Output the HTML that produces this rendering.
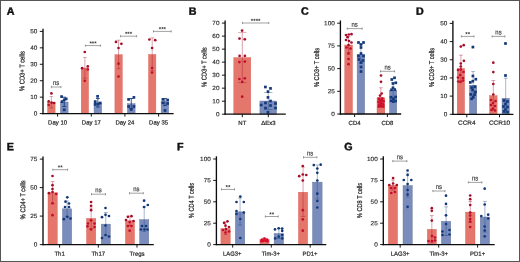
<!DOCTYPE html>
<html lang="en">
<head>
<meta charset="utf-8">
<title>Figure</title>
<style>
html,body{margin:0;padding:0;background:#fff;}
body{width:520px;height:262px;overflow:hidden;position:relative;}
#fig{position:absolute;left:0;top:0;width:520px;height:262px;box-sizing:border-box;border:1px solid #555;background:#fff;}
svg{position:absolute;left:0;top:0;display:block;font-family:"Liberation Sans",sans-serif;}
</style>
</head>
<body>
<div id="fig"></div>
<svg width="520" height="262" viewBox="0 0 520 262">
<rect x="47.60" y="102.50" width="7.50" height="11.10" fill="#E5766C" stroke="#D9625A" stroke-width="0.4"/>
<rect x="60.40" y="102.00" width="7.70" height="11.60" fill="#7A8CBC" stroke="#66749A" stroke-width="0.4"/>
<rect x="81.20" y="68.00" width="7.40" height="45.60" fill="#E5766C" stroke="#D9625A" stroke-width="0.4"/>
<rect x="94.00" y="103.00" width="7.70" height="10.60" fill="#7A8CBC" stroke="#66749A" stroke-width="0.4"/>
<rect x="114.90" y="54.70" width="7.40" height="58.90" fill="#E5766C" stroke="#D9625A" stroke-width="0.4"/>
<rect x="127.40" y="103.70" width="7.70" height="9.90" fill="#7A8CBC" stroke="#66749A" stroke-width="0.4"/>
<rect x="148.50" y="54.50" width="7.40" height="59.10" fill="#E5766C" stroke="#D9625A" stroke-width="0.4"/>
<rect x="161.10" y="101.70" width="7.60" height="11.90" fill="#7A8CBC" stroke="#66749A" stroke-width="0.4"/>
<g opacity="0.85">
<line x1="51.35" y1="96.30" x2="51.35" y2="108.00" stroke="#9C0E29" stroke-width="0.45"/>
<line x1="49.45" y1="96.30" x2="53.25" y2="96.30" stroke="#9C0E29" stroke-width="0.45"/>
<line x1="49.45" y1="108.00" x2="53.25" y2="108.00" stroke="#9C0E29" stroke-width="0.45"/>
</g>
<g opacity="1">
<line x1="64.25" y1="97.20" x2="64.25" y2="106.50" stroke="#17407F" stroke-width="0.9"/>
<line x1="62.35" y1="97.20" x2="66.15" y2="97.20" stroke="#17407F" stroke-width="0.9"/>
<line x1="62.35" y1="106.50" x2="66.15" y2="106.50" stroke="#17407F" stroke-width="0.9"/>
</g>
<g opacity="0.85">
<line x1="84.90" y1="57.30" x2="84.90" y2="78.30" stroke="#9C0E29" stroke-width="0.45"/>
<line x1="83.00" y1="57.30" x2="86.80" y2="57.30" stroke="#9C0E29" stroke-width="0.45"/>
<line x1="83.00" y1="78.30" x2="86.80" y2="78.30" stroke="#9C0E29" stroke-width="0.45"/>
</g>
<g opacity="1">
<line x1="97.85" y1="98.50" x2="97.85" y2="107.00" stroke="#17407F" stroke-width="0.9"/>
<line x1="95.95" y1="98.50" x2="99.75" y2="98.50" stroke="#17407F" stroke-width="0.9"/>
<line x1="95.95" y1="107.00" x2="99.75" y2="107.00" stroke="#17407F" stroke-width="0.9"/>
</g>
<g opacity="0.85">
<line x1="118.60" y1="40.20" x2="118.60" y2="68.80" stroke="#9C0E29" stroke-width="0.45"/>
<line x1="116.70" y1="40.20" x2="120.50" y2="40.20" stroke="#9C0E29" stroke-width="0.45"/>
<line x1="116.70" y1="68.80" x2="120.50" y2="68.80" stroke="#9C0E29" stroke-width="0.45"/>
</g>
<g opacity="1">
<line x1="131.25" y1="98.50" x2="131.25" y2="108.50" stroke="#17407F" stroke-width="0.9"/>
<line x1="129.35" y1="98.50" x2="133.15" y2="98.50" stroke="#17407F" stroke-width="0.9"/>
<line x1="129.35" y1="108.50" x2="133.15" y2="108.50" stroke="#17407F" stroke-width="0.9"/>
</g>
<g opacity="0.85">
<line x1="152.20" y1="37.90" x2="152.20" y2="70.70" stroke="#9C0E29" stroke-width="0.45"/>
<line x1="150.30" y1="37.90" x2="154.10" y2="37.90" stroke="#9C0E29" stroke-width="0.45"/>
<line x1="150.30" y1="70.70" x2="154.10" y2="70.70" stroke="#9C0E29" stroke-width="0.45"/>
</g>
<g opacity="1">
<line x1="164.90" y1="98.50" x2="164.90" y2="105.50" stroke="#17407F" stroke-width="0.9"/>
<line x1="163.00" y1="98.50" x2="166.80" y2="98.50" stroke="#17407F" stroke-width="0.9"/>
<line x1="163.00" y1="105.50" x2="166.80" y2="105.50" stroke="#17407F" stroke-width="0.9"/>
</g>
<circle cx="51.40" cy="93.40" r="1.35" fill="#A80D28"/>
<circle cx="48.70" cy="101.40" r="1.35" fill="#A80D28"/>
<circle cx="51.60" cy="102.60" r="1.35" fill="#A80D28"/>
<circle cx="54.10" cy="103.00" r="1.35" fill="#A80D28"/>
<circle cx="48.70" cy="105.00" r="1.35" fill="#C20F2B"/>
<rect x="60.25" y="95.25" width="2.7" height="2.7" fill="#133777"/>
<rect x="64.85" y="97.55" width="2.7" height="2.7" fill="#133777"/>
<rect x="62.85" y="98.65" width="2.7" height="2.7" fill="#133777"/>
<rect x="60.65" y="100.25" width="2.7" height="2.7" fill="#133777"/>
<rect x="62.85" y="108.45" width="2.7" height="2.7" fill="#143A7C"/>
<circle cx="84.80" cy="52.00" r="1.35" fill="#A80D28"/>
<circle cx="82.10" cy="68.20" r="1.35" fill="#A80D28"/>
<circle cx="87.80" cy="66.40" r="1.35" fill="#A80D28"/>
<circle cx="87.80" cy="69.50" r="1.35" fill="#C20F2B"/>
<circle cx="84.80" cy="80.80" r="1.35" fill="#C20F2B"/>
<rect x="96.25" y="94.95" width="2.7" height="2.7" fill="#133777"/>
<rect x="93.85" y="100.25" width="2.7" height="2.7" fill="#133777"/>
<rect x="98.85" y="101.65" width="2.7" height="2.7" fill="#133777"/>
<rect x="93.85" y="103.05" width="2.7" height="2.7" fill="#143A7C"/>
<rect x="96.65" y="102.65" width="2.7" height="2.7" fill="#143A7C"/>
<circle cx="116.00" cy="41.90" r="1.35" fill="#A80D28"/>
<circle cx="121.40" cy="43.80" r="1.35" fill="#A80D28"/>
<circle cx="118.50" cy="48.00" r="1.35" fill="#A80D28"/>
<circle cx="118.50" cy="63.70" r="1.35" fill="#C20F2B"/>
<circle cx="118.50" cy="76.50" r="1.35" fill="#C20F2B"/>
<rect x="127.25" y="98.05" width="2.7" height="2.7" fill="#133777"/>
<rect x="132.55" y="96.05" width="2.7" height="2.7" fill="#133777"/>
<rect x="127.25" y="105.15" width="2.7" height="2.7" fill="#143A7C"/>
<rect x="132.55" y="105.15" width="2.7" height="2.7" fill="#143A7C"/>
<rect x="129.85" y="108.15" width="2.7" height="2.7" fill="#143A7C"/>
<circle cx="149.40" cy="39.50" r="1.35" fill="#A80D28"/>
<circle cx="155.20" cy="40.20" r="1.35" fill="#A80D28"/>
<circle cx="152.10" cy="48.00" r="1.35" fill="#A80D28"/>
<circle cx="152.10" cy="68.00" r="1.35" fill="#C20F2B"/>
<circle cx="152.10" cy="72.50" r="1.35" fill="#C20F2B"/>
<rect x="161.55" y="98.05" width="2.7" height="2.7" fill="#133777"/>
<rect x="166.25" y="98.65" width="2.7" height="2.7" fill="#133777"/>
<rect x="161.55" y="101.45" width="2.7" height="2.7" fill="#143A7C"/>
<rect x="166.25" y="102.15" width="2.7" height="2.7" fill="#143A7C"/>
<rect x="163.65" y="109.15" width="2.7" height="2.7" fill="#143A7C"/>
<line x1="43.00" y1="28.70" x2="43.00" y2="114.25" stroke="#0d0d0d" stroke-width="1.35"/>
<line x1="42.35" y1="113.60" x2="173.60" y2="113.60" stroke="#0d0d0d" stroke-width="1.3"/>
<line x1="39.80" y1="113.60" x2="43.00" y2="113.60" stroke="#0d0d0d" stroke-width="0.95"/>
<text transform="matrix(1.07 0.002 0 1 37.40 115.55)" font-size="6.0" text-anchor="end" fill="#231F20" stroke="#231F20" stroke-width="0.12">0</text>
<line x1="39.80" y1="97.16" x2="43.00" y2="97.16" stroke="#0d0d0d" stroke-width="0.95"/>
<text transform="matrix(1.07 0.002 0 1 37.40 99.11)" font-size="6.0" text-anchor="end" fill="#231F20" stroke="#231F20" stroke-width="0.12">10</text>
<line x1="39.80" y1="80.72" x2="43.00" y2="80.72" stroke="#0d0d0d" stroke-width="0.95"/>
<text transform="matrix(1.07 0.002 0 1 37.40 82.67)" font-size="6.0" text-anchor="end" fill="#231F20" stroke="#231F20" stroke-width="0.12">20</text>
<line x1="39.80" y1="64.28" x2="43.00" y2="64.28" stroke="#0d0d0d" stroke-width="0.95"/>
<text transform="matrix(1.07 0.002 0 1 37.40 66.23)" font-size="6.0" text-anchor="end" fill="#231F20" stroke="#231F20" stroke-width="0.12">30</text>
<line x1="39.80" y1="47.84" x2="43.00" y2="47.84" stroke="#0d0d0d" stroke-width="0.95"/>
<text transform="matrix(1.07 0.002 0 1 37.40 49.79)" font-size="6.0" text-anchor="end" fill="#231F20" stroke="#231F20" stroke-width="0.12">40</text>
<line x1="39.80" y1="31.40" x2="43.00" y2="31.40" stroke="#0d0d0d" stroke-width="0.95"/>
<text transform="matrix(1.07 0.002 0 1 37.40 33.35)" font-size="6.0" text-anchor="end" fill="#231F20" stroke="#231F20" stroke-width="0.12">50</text>
<line x1="57.60" y1="113.60" x2="57.60" y2="116.60" stroke="#0d0d0d" stroke-width="0.95"/>
<text transform="matrix(1 0.002 0 1 57.60 124.40)" font-size="6.0" text-anchor="middle" fill="#231F20" stroke="#231F20" stroke-width="0.2">Day 10</text>
<line x1="91.30" y1="113.60" x2="91.30" y2="116.60" stroke="#0d0d0d" stroke-width="0.95"/>
<text transform="matrix(1 0.002 0 1 91.30 124.40)" font-size="6.0" text-anchor="middle" fill="#231F20" stroke="#231F20" stroke-width="0.2">Day 17</text>
<line x1="124.90" y1="113.60" x2="124.90" y2="116.60" stroke="#0d0d0d" stroke-width="0.95"/>
<text transform="matrix(1 0.002 0 1 124.90 124.40)" font-size="6.0" text-anchor="middle" fill="#231F20" stroke="#231F20" stroke-width="0.2">Day 24</text>
<line x1="158.60" y1="113.60" x2="158.60" y2="116.60" stroke="#0d0d0d" stroke-width="0.95"/>
<text transform="matrix(1 0.002 0 1 158.60 124.40)" font-size="6.0" text-anchor="middle" fill="#231F20" stroke="#231F20" stroke-width="0.2">Day 35</text>
<text transform="translate(24.40 71.10) rotate(-89.9)" font-size="7.0" text-anchor="middle" fill="#231F20" textLength="39.8" lengthAdjust="spacingAndGlyphs" stroke="#231F20" stroke-width="0.24">% CD3+ T cells</text>
<line x1="51.40" y1="87.00" x2="61.00" y2="87.00" stroke="#454545" stroke-width="0.5"/>
<line x1="51.40" y1="85.90" x2="51.40" y2="88.10" stroke="#454545" stroke-width="0.5"/>
<line x1="61.00" y1="85.90" x2="61.00" y2="88.10" stroke="#454545" stroke-width="0.5"/>
<text transform="matrix(0.86 0.002 0 1 56.20 85.10)" font-size="6.9" text-anchor="middle" fill="#333" stroke="#333" stroke-width="0.15">ns</text>
<line x1="85.40" y1="45.60" x2="100.60" y2="45.60" stroke="#454545" stroke-width="0.5"/>
<line x1="85.40" y1="44.50" x2="85.40" y2="46.70" stroke="#454545" stroke-width="0.5"/>
<line x1="100.60" y1="44.50" x2="100.60" y2="46.70" stroke="#454545" stroke-width="0.5"/>
<text transform="matrix(1 0.002 0 1 93.00 45.50)" font-size="6.2" text-anchor="middle" font-weight="bold" fill="#333" >***</text>
<line x1="120.50" y1="36.20" x2="136.60" y2="36.20" stroke="#454545" stroke-width="0.5"/>
<line x1="120.50" y1="35.10" x2="120.50" y2="37.30" stroke="#454545" stroke-width="0.5"/>
<line x1="136.60" y1="35.10" x2="136.60" y2="37.30" stroke="#454545" stroke-width="0.5"/>
<text transform="matrix(1 0.002 0 1 128.55 36.10)" font-size="6.2" text-anchor="middle" font-weight="bold" fill="#333" >***</text>
<line x1="153.50" y1="31.40" x2="171.20" y2="31.40" stroke="#454545" stroke-width="0.5"/>
<line x1="153.50" y1="30.30" x2="153.50" y2="32.50" stroke="#454545" stroke-width="0.5"/>
<line x1="171.20" y1="30.30" x2="171.20" y2="32.50" stroke="#454545" stroke-width="0.5"/>
<text transform="matrix(1 0.002 0 1 162.35 31.30)" font-size="6.2" text-anchor="middle" font-weight="bold" fill="#333" >***</text>
<text transform="matrix(1 0.002 0 1 6.70 14.70)" font-size="10.7" font-weight="bold" fill="#111" stroke="#111" stroke-width="0.45" stroke-linejoin="round">A</text>
<rect x="233.80" y="57.60" width="17.00" height="56.60" fill="#E5766C" stroke="#D9625A" stroke-width="0.4"/>
<rect x="259.90" y="101.00" width="16.70" height="13.20" fill="#7A8CBC" stroke="#66749A" stroke-width="0.4"/>
<g opacity="0.85">
<line x1="242.30" y1="32.30" x2="242.30" y2="82.60" stroke="#9C0E29" stroke-width="0.45"/>
<line x1="238.10" y1="32.30" x2="246.50" y2="32.30" stroke="#9C0E29" stroke-width="0.45"/>
<line x1="238.10" y1="82.60" x2="246.50" y2="82.60" stroke="#9C0E29" stroke-width="0.45"/>
</g>
<g opacity="0.85">
<line x1="268.25" y1="92.50" x2="268.25" y2="109.50" stroke="#17407F" stroke-width="0.45"/>
<line x1="264.05" y1="92.50" x2="272.45" y2="92.50" stroke="#17407F" stroke-width="0.45"/>
<line x1="264.05" y1="109.50" x2="272.45" y2="109.50" stroke="#17407F" stroke-width="0.45"/>
</g>
<circle cx="242.10" cy="30.60" r="1.35" fill="#A80D28"/>
<circle cx="239.50" cy="38.60" r="1.35" fill="#A80D28"/>
<circle cx="244.80" cy="39.30" r="1.35" fill="#A80D28"/>
<circle cx="239.60" cy="55.90" r="1.35" fill="#A80D28"/>
<circle cx="244.90" cy="55.90" r="1.35" fill="#A80D28"/>
<circle cx="239.40" cy="62.10" r="1.35" fill="#C20F2B"/>
<circle cx="244.80" cy="61.60" r="1.35" fill="#C20F2B"/>
<circle cx="239.40" cy="79.00" r="1.35" fill="#C20F2B"/>
<circle cx="244.80" cy="78.30" r="1.35" fill="#C20F2B"/>
<circle cx="242.20" cy="81.90" r="1.35" fill="#C20F2B"/>
<circle cx="242.20" cy="96.70" r="1.35" fill="#C20F2B"/>
<rect x="264.05" y="85.65" width="2.7" height="2.7" fill="#133777"/>
<rect x="269.15" y="87.05" width="2.7" height="2.7" fill="#133777"/>
<rect x="266.65" y="90.25" width="2.7" height="2.7" fill="#133777"/>
<rect x="266.65" y="96.05" width="2.7" height="2.7" fill="#133777"/>
<rect x="269.15" y="99.65" width="2.7" height="2.7" fill="#133777"/>
<rect x="259.85" y="103.65" width="2.7" height="2.7" fill="#143A7C"/>
<rect x="264.15" y="101.65" width="2.7" height="2.7" fill="#143A7C"/>
<rect x="274.15" y="102.15" width="2.7" height="2.7" fill="#143A7C"/>
<rect x="269.15" y="104.15" width="2.7" height="2.7" fill="#143A7C"/>
<rect x="264.15" y="106.65" width="2.7" height="2.7" fill="#143A7C"/>
<rect x="274.15" y="106.65" width="2.7" height="2.7" fill="#143A7C"/>
<rect x="266.65" y="110.95" width="2.7" height="2.7" fill="#143A7C"/>
<line x1="225.10" y1="20.40" x2="225.10" y2="114.85" stroke="#0d0d0d" stroke-width="1.35"/>
<line x1="224.45" y1="114.20" x2="285.80" y2="114.20" stroke="#0d0d0d" stroke-width="1.3"/>
<line x1="221.90" y1="114.20" x2="225.10" y2="114.20" stroke="#0d0d0d" stroke-width="0.95"/>
<text transform="matrix(1.07 0.002 0 1 219.50 116.15)" font-size="6.0" text-anchor="end" fill="#231F20" stroke="#231F20" stroke-width="0.12">0</text>
<line x1="221.90" y1="101.19" x2="225.10" y2="101.19" stroke="#0d0d0d" stroke-width="0.95"/>
<text transform="matrix(1.07 0.002 0 1 219.50 103.14)" font-size="6.0" text-anchor="end" fill="#231F20" stroke="#231F20" stroke-width="0.12">10</text>
<line x1="221.90" y1="88.17" x2="225.10" y2="88.17" stroke="#0d0d0d" stroke-width="0.95"/>
<text transform="matrix(1.07 0.002 0 1 219.50 90.12)" font-size="6.0" text-anchor="end" fill="#231F20" stroke="#231F20" stroke-width="0.12">20</text>
<line x1="221.90" y1="75.16" x2="225.10" y2="75.16" stroke="#0d0d0d" stroke-width="0.95"/>
<text transform="matrix(1.07 0.002 0 1 219.50 77.11)" font-size="6.0" text-anchor="end" fill="#231F20" stroke="#231F20" stroke-width="0.12">30</text>
<line x1="221.90" y1="62.14" x2="225.10" y2="62.14" stroke="#0d0d0d" stroke-width="0.95"/>
<text transform="matrix(1.07 0.002 0 1 219.50 64.09)" font-size="6.0" text-anchor="end" fill="#231F20" stroke="#231F20" stroke-width="0.12">40</text>
<line x1="221.90" y1="49.13" x2="225.10" y2="49.13" stroke="#0d0d0d" stroke-width="0.95"/>
<text transform="matrix(1.07 0.002 0 1 219.50 51.08)" font-size="6.0" text-anchor="end" fill="#231F20" stroke="#231F20" stroke-width="0.12">50</text>
<line x1="221.90" y1="36.11" x2="225.10" y2="36.11" stroke="#0d0d0d" stroke-width="0.95"/>
<text transform="matrix(1.07 0.002 0 1 219.50 38.06)" font-size="6.0" text-anchor="end" fill="#231F20" stroke="#231F20" stroke-width="0.12">60</text>
<line x1="221.90" y1="23.10" x2="225.10" y2="23.10" stroke="#0d0d0d" stroke-width="0.95"/>
<text transform="matrix(1.07 0.002 0 1 219.50 25.05)" font-size="6.0" text-anchor="end" fill="#231F20" stroke="#231F20" stroke-width="0.12">70</text>
<line x1="242.30" y1="114.20" x2="242.30" y2="117.20" stroke="#0d0d0d" stroke-width="0.95"/>
<text transform="matrix(1 0.002 0 1 242.30 124.90)" font-size="6.0" text-anchor="middle" fill="#231F20" stroke="#231F20" stroke-width="0.2">NT</text>
<line x1="268.30" y1="114.20" x2="268.30" y2="117.20" stroke="#0d0d0d" stroke-width="0.95"/>
<text transform="matrix(1 0.002 0 1 268.30 124.90)" font-size="6.0" text-anchor="middle" fill="#231F20" stroke="#231F20" stroke-width="0.2">ΔEx3</text>
<text transform="translate(206.50 67.20) rotate(-89.9)" font-size="7.0" text-anchor="middle" fill="#231F20" textLength="39.6" lengthAdjust="spacingAndGlyphs" stroke="#231F20" stroke-width="0.24">% CD3+ T cells</text>
<line x1="242.50" y1="23.00" x2="268.80" y2="23.00" stroke="#454545" stroke-width="0.5"/>
<line x1="242.50" y1="21.90" x2="242.50" y2="24.10" stroke="#454545" stroke-width="0.5"/>
<line x1="268.80" y1="21.90" x2="268.80" y2="24.10" stroke="#454545" stroke-width="0.5"/>
<text transform="matrix(1 0.002 0 1 255.65 22.90)" font-size="6.2" text-anchor="middle" font-weight="bold" fill="#333" >****</text>
<text transform="matrix(1 0.002 0 1 188.70 14.70)" font-size="10.7" font-weight="bold" fill="#111" stroke="#111" stroke-width="0.45" stroke-linejoin="round">B</text>
<rect x="344.70" y="45.00" width="7.80" height="69.00" fill="#E5766C" stroke="#D9625A" stroke-width="0.4"/>
<rect x="357.10" y="54.20" width="7.60" height="59.80" fill="#7A8CBC" stroke="#66749A" stroke-width="0.4"/>
<rect x="377.10" y="97.80" width="7.50" height="16.20" fill="#E5766C" stroke="#D9625A" stroke-width="0.4"/>
<rect x="377.10" y="97.80" width="7.50" height="16.20" fill="#E5766C" stroke="#D9625A" stroke-width="0.4"/>
<rect x="389.50" y="90.20" width="7.30" height="23.80" fill="#7A8CBC" stroke="#66749A" stroke-width="0.4"/>
<g opacity="0.85">
<line x1="348.60" y1="36.50" x2="348.60" y2="52.50" stroke="#9C0E29" stroke-width="0.45"/>
<line x1="346.70" y1="36.50" x2="350.50" y2="36.50" stroke="#9C0E29" stroke-width="0.45"/>
<line x1="346.70" y1="52.50" x2="350.50" y2="52.50" stroke="#9C0E29" stroke-width="0.45"/>
</g>
<g opacity="0.85">
<line x1="360.90" y1="44.50" x2="360.90" y2="63.50" stroke="#17407F" stroke-width="0.45"/>
<line x1="359.00" y1="44.50" x2="362.80" y2="44.50" stroke="#17407F" stroke-width="0.45"/>
<line x1="359.00" y1="63.50" x2="362.80" y2="63.50" stroke="#17407F" stroke-width="0.45"/>
</g>
<g opacity="0.85">
<line x1="380.85" y1="87.80" x2="380.85" y2="107.50" stroke="#9C0E29" stroke-width="0.45"/>
<line x1="378.95" y1="87.80" x2="382.75" y2="87.80" stroke="#9C0E29" stroke-width="0.45"/>
<line x1="378.95" y1="107.50" x2="382.75" y2="107.50" stroke="#9C0E29" stroke-width="0.45"/>
</g>
<g opacity="0.85">
<line x1="393.15" y1="82.50" x2="393.15" y2="98.50" stroke="#17407F" stroke-width="0.45"/>
<line x1="391.25" y1="82.50" x2="395.05" y2="82.50" stroke="#17407F" stroke-width="0.45"/>
<line x1="391.25" y1="98.50" x2="395.05" y2="98.50" stroke="#17407F" stroke-width="0.45"/>
</g>
<circle cx="346.00" cy="35.00" r="1.35" fill="#A80D28"/>
<circle cx="348.80" cy="34.50" r="1.35" fill="#A80D28"/>
<circle cx="351.50" cy="34.20" r="1.35" fill="#A80D28"/>
<circle cx="347.50" cy="37.20" r="1.35" fill="#A80D28"/>
<circle cx="346.00" cy="40.00" r="1.35" fill="#A80D28"/>
<circle cx="349.00" cy="41.00" r="1.35" fill="#A80D28"/>
<circle cx="351.50" cy="42.50" r="1.35" fill="#A80D28"/>
<circle cx="348.50" cy="45.00" r="1.35" fill="#A80D28"/>
<circle cx="346.50" cy="47.50" r="1.35" fill="#C20F2B"/>
<circle cx="350.50" cy="48.50" r="1.35" fill="#C20F2B"/>
<circle cx="348.50" cy="53.70" r="1.35" fill="#C20F2B"/>
<circle cx="348.50" cy="59.00" r="1.35" fill="#C20F2B"/>
<circle cx="348.50" cy="64.20" r="1.35" fill="#C20F2B"/>
<rect x="357.15" y="41.15" width="2.7" height="2.7" fill="#133777"/>
<rect x="362.15" y="41.15" width="2.7" height="2.7" fill="#133777"/>
<rect x="359.65" y="43.15" width="2.7" height="2.7" fill="#133777"/>
<rect x="359.65" y="46.15" width="2.7" height="2.7" fill="#133777"/>
<rect x="359.65" y="52.15" width="2.7" height="2.7" fill="#133777"/>
<rect x="357.15" y="54.65" width="2.7" height="2.7" fill="#143A7C"/>
<rect x="362.15" y="54.65" width="2.7" height="2.7" fill="#143A7C"/>
<rect x="357.65" y="58.15" width="2.7" height="2.7" fill="#143A7C"/>
<rect x="361.65" y="59.15" width="2.7" height="2.7" fill="#143A7C"/>
<rect x="359.65" y="61.15" width="2.7" height="2.7" fill="#143A7C"/>
<rect x="359.65" y="65.65" width="2.7" height="2.7" fill="#143A7C"/>
<rect x="359.65" y="70.15" width="2.7" height="2.7" fill="#143A7C"/>
<circle cx="381.00" cy="75.50" r="1.35" fill="#A80D28"/>
<circle cx="381.00" cy="81.80" r="1.35" fill="#A80D28"/>
<circle cx="381.70" cy="93.50" r="1.35" fill="#A80D28"/>
<circle cx="380.00" cy="95.60" r="1.35" fill="#A80D28"/>
<circle cx="379.00" cy="99.00" r="1.45" fill="#CC0F2B"/>
<circle cx="382.30" cy="98.80" r="1.45" fill="#CC0F2B"/>
<circle cx="380.60" cy="100.60" r="1.45" fill="#CC0F2B"/>
<circle cx="383.40" cy="101.30" r="1.45" fill="#CC0F2B"/>
<circle cx="378.60" cy="102.00" r="1.45" fill="#CC0F2B"/>
<circle cx="381.20" cy="103.00" r="1.45" fill="#CC0F2B"/>
<circle cx="379.40" cy="104.60" r="1.45" fill="#CC0F2B"/>
<circle cx="383.00" cy="104.40" r="1.45" fill="#CC0F2B"/>
<circle cx="381.00" cy="106.00" r="1.45" fill="#CC0F2B"/>
<circle cx="378.80" cy="106.40" r="1.45" fill="#CC0F2B"/>
<circle cx="383.20" cy="106.60" r="1.45" fill="#CC0F2B"/>
<rect x="393.15" y="76.45" width="2.7" height="2.7" fill="#133777"/>
<rect x="390.45" y="78.15" width="2.7" height="2.7" fill="#133777"/>
<rect x="394.45" y="81.45" width="2.7" height="2.7" fill="#133777"/>
<rect x="391.65" y="82.15" width="2.7" height="2.7" fill="#133777"/>
<rect x="391.65" y="86.45" width="2.7" height="2.7" fill="#133777"/>
<rect x="390.15" y="88.45" width="2.7" height="2.7" fill="#133777"/>
<rect x="393.45" y="88.25" width="2.7" height="2.7" fill="#133777"/>
<rect x="389.65" y="95.85" width="2.7" height="2.7" fill="#143A7C"/>
<rect x="394.25" y="95.65" width="2.7" height="2.7" fill="#143A7C"/>
<rect x="392.05" y="97.45" width="2.7" height="2.7" fill="#143A7C"/>
<rect x="389.85" y="99.45" width="2.7" height="2.7" fill="#143A7C"/>
<rect x="394.25" y="99.65" width="2.7" height="2.7" fill="#143A7C"/>
<rect x="392.05" y="100.25" width="2.7" height="2.7" fill="#143A7C"/>
<line x1="340.40" y1="20.50" x2="340.40" y2="114.65" stroke="#0d0d0d" stroke-width="1.35"/>
<line x1="339.75" y1="114.00" x2="401.20" y2="114.00" stroke="#0d0d0d" stroke-width="1.3"/>
<line x1="337.20" y1="114.00" x2="340.40" y2="114.00" stroke="#0d0d0d" stroke-width="0.95"/>
<text transform="matrix(1.07 0.002 0 1 334.80 115.95)" font-size="6.0" text-anchor="end" fill="#231F20" stroke="#231F20" stroke-width="0.12">0</text>
<line x1="337.20" y1="91.30" x2="340.40" y2="91.30" stroke="#0d0d0d" stroke-width="0.95"/>
<text transform="matrix(1.07 0.002 0 1 334.80 93.25)" font-size="6.0" text-anchor="end" fill="#231F20" stroke="#231F20" stroke-width="0.12">25</text>
<line x1="337.20" y1="68.60" x2="340.40" y2="68.60" stroke="#0d0d0d" stroke-width="0.95"/>
<text transform="matrix(1.07 0.002 0 1 334.80 70.55)" font-size="6.0" text-anchor="end" fill="#231F20" stroke="#231F20" stroke-width="0.12">50</text>
<line x1="337.20" y1="45.90" x2="340.40" y2="45.90" stroke="#0d0d0d" stroke-width="0.95"/>
<text transform="matrix(1.07 0.002 0 1 334.80 47.85)" font-size="6.0" text-anchor="end" fill="#231F20" stroke="#231F20" stroke-width="0.12">75</text>
<line x1="337.20" y1="23.20" x2="340.40" y2="23.20" stroke="#0d0d0d" stroke-width="0.95"/>
<text transform="matrix(1.07 0.002 0 1 334.80 25.15)" font-size="6.0" text-anchor="end" fill="#231F20" stroke="#231F20" stroke-width="0.12">100</text>
<line x1="354.60" y1="114.00" x2="354.60" y2="117.00" stroke="#0d0d0d" stroke-width="0.95"/>
<text transform="matrix(1 0.002 0 1 354.60 124.90)" font-size="6.0" text-anchor="middle" fill="#231F20" stroke="#231F20" stroke-width="0.2">CD4</text>
<line x1="387.40" y1="114.00" x2="387.40" y2="117.00" stroke="#0d0d0d" stroke-width="0.95"/>
<text transform="matrix(1 0.002 0 1 387.40 124.90)" font-size="6.0" text-anchor="middle" fill="#231F20" stroke="#231F20" stroke-width="0.2">CD8</text>
<text transform="translate(319.10 67.50) rotate(-89.9)" font-size="7.0" text-anchor="middle" fill="#231F20" textLength="39.2" lengthAdjust="spacingAndGlyphs" stroke="#231F20" stroke-width="0.24">% CD3+ T cells</text>
<line x1="347.20" y1="28.60" x2="362.20" y2="28.60" stroke="#454545" stroke-width="0.5"/>
<line x1="347.20" y1="27.50" x2="347.20" y2="29.70" stroke="#454545" stroke-width="0.5"/>
<line x1="362.20" y1="27.50" x2="362.20" y2="29.70" stroke="#454545" stroke-width="0.5"/>
<text transform="matrix(0.86 0.002 0 1 354.70 26.70)" font-size="6.9" text-anchor="middle" fill="#333" stroke="#333" stroke-width="0.15">ns</text>
<line x1="380.50" y1="71.30" x2="394.60" y2="71.30" stroke="#454545" stroke-width="0.5"/>
<line x1="380.50" y1="70.20" x2="380.50" y2="72.40" stroke="#454545" stroke-width="0.5"/>
<line x1="394.60" y1="70.20" x2="394.60" y2="72.40" stroke="#454545" stroke-width="0.5"/>
<text transform="matrix(0.86 0.002 0 1 387.55 69.40)" font-size="6.9" text-anchor="middle" fill="#333" stroke="#333" stroke-width="0.15">ns</text>
<text transform="matrix(1 0.002 0 1 301.00 14.70)" font-size="10.7" font-weight="bold" fill="#111" stroke="#111" stroke-width="0.45" stroke-linejoin="round">C</text>
<rect x="457.20" y="68.40" width="7.40" height="45.90" fill="#E5766C" stroke="#D9625A" stroke-width="0.4"/>
<rect x="469.40" y="85.20" width="7.40" height="29.10" fill="#7A8CBC" stroke="#66749A" stroke-width="0.4"/>
<rect x="489.50" y="95.60" width="7.60" height="18.70" fill="#E5766C" stroke="#D9625A" stroke-width="0.4"/>
<rect x="502.00" y="98.30" width="7.40" height="16.00" fill="#7A8CBC" stroke="#66749A" stroke-width="0.4"/>
<g opacity="0.85">
<line x1="460.90" y1="55.20" x2="460.90" y2="81.00" stroke="#9C0E29" stroke-width="0.45"/>
<line x1="459.00" y1="55.20" x2="462.80" y2="55.20" stroke="#9C0E29" stroke-width="0.45"/>
<line x1="459.00" y1="81.00" x2="462.80" y2="81.00" stroke="#9C0E29" stroke-width="0.45"/>
</g>
<g opacity="0.85">
<line x1="473.10" y1="71.40" x2="473.10" y2="98.50" stroke="#17407F" stroke-width="0.45"/>
<line x1="471.20" y1="71.40" x2="475.00" y2="71.40" stroke="#17407F" stroke-width="0.45"/>
<line x1="471.20" y1="98.50" x2="475.00" y2="98.50" stroke="#17407F" stroke-width="0.45"/>
</g>
<g opacity="0.85">
<line x1="493.30" y1="80.50" x2="493.30" y2="110.00" stroke="#9C0E29" stroke-width="0.45"/>
<line x1="491.40" y1="80.50" x2="495.20" y2="80.50" stroke="#9C0E29" stroke-width="0.45"/>
<line x1="491.40" y1="110.00" x2="495.20" y2="110.00" stroke="#9C0E29" stroke-width="0.45"/>
</g>
<g opacity="0.85">
<line x1="505.70" y1="78.20" x2="505.70" y2="114.00" stroke="#17407F" stroke-width="0.45"/>
<line x1="503.80" y1="78.20" x2="507.60" y2="78.20" stroke="#17407F" stroke-width="0.45"/>
</g>
<circle cx="460.80" cy="46.60" r="1.35" fill="#A80D28"/>
<circle cx="463.70" cy="45.20" r="1.35" fill="#A80D28"/>
<circle cx="463.90" cy="60.80" r="1.35" fill="#A80D28"/>
<circle cx="460.80" cy="63.50" r="1.35" fill="#A80D28"/>
<circle cx="460.80" cy="66.50" r="1.35" fill="#A80D28"/>
<circle cx="458.00" cy="70.00" r="1.35" fill="#C20F2B"/>
<circle cx="460.80" cy="69.60" r="1.35" fill="#C20F2B"/>
<circle cx="463.50" cy="72.00" r="1.35" fill="#C20F2B"/>
<circle cx="460.20" cy="75.00" r="1.35" fill="#C20F2B"/>
<circle cx="458.00" cy="77.50" r="1.35" fill="#C20F2B"/>
<circle cx="463.00" cy="78.00" r="1.35" fill="#C20F2B"/>
<circle cx="458.20" cy="81.50" r="1.35" fill="#C20F2B"/>
<circle cx="463.00" cy="80.50" r="1.35" fill="#C20F2B"/>
<circle cx="460.50" cy="82.00" r="1.35" fill="#C20F2B"/>
<rect x="471.55" y="45.75" width="2.7" height="2.7" fill="#133777"/>
<rect x="471.55" y="74.65" width="2.7" height="2.7" fill="#133777"/>
<rect x="474.45" y="77.85" width="2.7" height="2.7" fill="#133777"/>
<rect x="471.45" y="79.85" width="2.7" height="2.7" fill="#133777"/>
<rect x="468.95" y="81.05" width="2.7" height="2.7" fill="#133777"/>
<rect x="470.25" y="86.25" width="2.7" height="2.7" fill="#143A7C"/>
<rect x="473.45" y="85.45" width="2.7" height="2.7" fill="#143A7C"/>
<rect x="471.25" y="88.65" width="2.7" height="2.7" fill="#143A7C"/>
<rect x="474.05" y="90.65" width="2.7" height="2.7" fill="#143A7C"/>
<rect x="469.45" y="93.05" width="2.7" height="2.7" fill="#143A7C"/>
<rect x="473.25" y="93.25" width="2.7" height="2.7" fill="#143A7C"/>
<rect x="471.85" y="95.65" width="2.7" height="2.7" fill="#143A7C"/>
<rect x="470.25" y="97.45" width="2.7" height="2.7" fill="#143A7C"/>
<circle cx="493.30" cy="62.70" r="1.35" fill="#A80D28"/>
<circle cx="493.30" cy="72.10" r="1.35" fill="#A80D28"/>
<circle cx="493.30" cy="84.00" r="1.35" fill="#A80D28"/>
<circle cx="493.30" cy="94.50" r="1.35" fill="#A80D28"/>
<circle cx="491.00" cy="100.00" r="1.35" fill="#C20F2B"/>
<circle cx="495.50" cy="101.00" r="1.35" fill="#C20F2B"/>
<circle cx="493.00" cy="103.00" r="1.35" fill="#C20F2B"/>
<circle cx="491.00" cy="105.00" r="1.35" fill="#C20F2B"/>
<circle cx="495.00" cy="106.00" r="1.35" fill="#C20F2B"/>
<circle cx="493.00" cy="108.50" r="1.35" fill="#C20F2B"/>
<circle cx="491.50" cy="110.00" r="1.35" fill="#C20F2B"/>
<circle cx="495.00" cy="110.50" r="1.35" fill="#C20F2B"/>
<rect x="504.15" y="42.15" width="2.7" height="2.7" fill="#133777"/>
<rect x="504.15" y="74.15" width="2.7" height="2.7" fill="#133777"/>
<rect x="502.65" y="99.15" width="2.7" height="2.7" fill="#143A7C"/>
<rect x="506.15" y="100.15" width="2.7" height="2.7" fill="#143A7C"/>
<rect x="504.15" y="102.65" width="2.7" height="2.7" fill="#143A7C"/>
<rect x="502.15" y="105.15" width="2.7" height="2.7" fill="#143A7C"/>
<rect x="506.15" y="105.65" width="2.7" height="2.7" fill="#143A7C"/>
<rect x="504.15" y="108.15" width="2.7" height="2.7" fill="#143A7C"/>
<rect x="502.65" y="110.15" width="2.7" height="2.7" fill="#143A7C"/>
<rect x="506.15" y="110.65" width="2.7" height="2.7" fill="#143A7C"/>
<line x1="452.90" y1="20.70" x2="452.90" y2="114.95" stroke="#0d0d0d" stroke-width="1.35"/>
<line x1="452.25" y1="114.30" x2="513.40" y2="114.30" stroke="#0d0d0d" stroke-width="1.3"/>
<line x1="449.70" y1="114.30" x2="452.90" y2="114.30" stroke="#0d0d0d" stroke-width="0.95"/>
<text transform="matrix(1.07 0.002 0 1 447.30 116.25)" font-size="6.0" text-anchor="end" fill="#231F20" stroke="#231F20" stroke-width="0.12">0</text>
<line x1="449.70" y1="96.12" x2="452.90" y2="96.12" stroke="#0d0d0d" stroke-width="0.95"/>
<text transform="matrix(1.07 0.002 0 1 447.30 98.07)" font-size="6.0" text-anchor="end" fill="#231F20" stroke="#231F20" stroke-width="0.12">10</text>
<line x1="449.70" y1="77.94" x2="452.90" y2="77.94" stroke="#0d0d0d" stroke-width="0.95"/>
<text transform="matrix(1.07 0.002 0 1 447.30 79.89)" font-size="6.0" text-anchor="end" fill="#231F20" stroke="#231F20" stroke-width="0.12">20</text>
<line x1="449.70" y1="59.76" x2="452.90" y2="59.76" stroke="#0d0d0d" stroke-width="0.95"/>
<text transform="matrix(1.07 0.002 0 1 447.30 61.71)" font-size="6.0" text-anchor="end" fill="#231F20" stroke="#231F20" stroke-width="0.12">30</text>
<line x1="449.70" y1="41.58" x2="452.90" y2="41.58" stroke="#0d0d0d" stroke-width="0.95"/>
<text transform="matrix(1.07 0.002 0 1 447.30 43.53)" font-size="6.0" text-anchor="end" fill="#231F20" stroke="#231F20" stroke-width="0.12">40</text>
<line x1="449.70" y1="23.40" x2="452.90" y2="23.40" stroke="#0d0d0d" stroke-width="0.95"/>
<text transform="matrix(1.07 0.002 0 1 447.30 25.35)" font-size="6.0" text-anchor="end" fill="#231F20" stroke="#231F20" stroke-width="0.12">50</text>
<line x1="466.80" y1="114.30" x2="466.80" y2="117.30" stroke="#0d0d0d" stroke-width="0.95"/>
<text transform="matrix(1.07 0.002 0 1 466.80 124.80)" font-size="6.0" text-anchor="middle" fill="#231F20" stroke="#231F20" stroke-width="0.2">CCR4</text>
<line x1="499.50" y1="114.30" x2="499.50" y2="117.30" stroke="#0d0d0d" stroke-width="0.95"/>
<text transform="matrix(1.08 0.002 0 1 499.50 124.80)" font-size="6.0" text-anchor="middle" fill="#231F20" stroke="#231F20" stroke-width="0.2">CCR10</text>
<text transform="translate(434.10 67.50) rotate(-89.9)" font-size="7.0" text-anchor="middle" fill="#231F20" textLength="39.2" lengthAdjust="spacingAndGlyphs" stroke="#231F20" stroke-width="0.24">% CD3+ T cells</text>
<line x1="461.40" y1="36.40" x2="474.00" y2="36.40" stroke="#454545" stroke-width="0.5"/>
<line x1="461.40" y1="35.30" x2="461.40" y2="37.50" stroke="#454545" stroke-width="0.5"/>
<line x1="474.00" y1="35.30" x2="474.00" y2="37.50" stroke="#454545" stroke-width="0.5"/>
<text transform="matrix(1 0.002 0 1 467.70 36.30)" font-size="6.2" text-anchor="middle" font-weight="bold" fill="#333" >**</text>
<line x1="492.10" y1="36.40" x2="504.90" y2="36.40" stroke="#454545" stroke-width="0.5"/>
<line x1="492.10" y1="35.30" x2="492.10" y2="37.50" stroke="#454545" stroke-width="0.5"/>
<line x1="504.90" y1="35.30" x2="504.90" y2="37.50" stroke="#454545" stroke-width="0.5"/>
<text transform="matrix(0.86 0.002 0 1 498.50 34.50)" font-size="6.9" text-anchor="middle" fill="#333" stroke="#333" stroke-width="0.15">ns</text>
<text transform="matrix(1 0.002 0 1 416.00 14.70)" font-size="10.7" font-weight="bold" fill="#111" stroke="#111" stroke-width="0.45" stroke-linejoin="round">D</text>
<rect x="48.00" y="192.70" width="9.30" height="51.90" fill="#E5766C" stroke="#D9625A" stroke-width="0.4"/>
<rect x="62.40" y="208.80" width="9.30" height="35.80" fill="#7A8CBC" stroke="#66749A" stroke-width="0.4"/>
<rect x="86.50" y="218.40" width="9.30" height="26.20" fill="#E5766C" stroke="#D9625A" stroke-width="0.4"/>
<rect x="101.20" y="224.10" width="9.20" height="20.50" fill="#7A8CBC" stroke="#66749A" stroke-width="0.4"/>
<rect x="125.40" y="220.80" width="9.10" height="23.80" fill="#E5766C" stroke="#D9625A" stroke-width="0.4"/>
<rect x="139.60" y="219.60" width="9.20" height="25.00" fill="#7A8CBC" stroke="#66749A" stroke-width="0.4"/>
<g opacity="0.85">
<line x1="52.65" y1="181.40" x2="52.65" y2="203.50" stroke="#9C0E29" stroke-width="0.45"/>
<line x1="50.75" y1="181.40" x2="54.55" y2="181.40" stroke="#9C0E29" stroke-width="0.45"/>
<line x1="50.75" y1="203.50" x2="54.55" y2="203.50" stroke="#9C0E29" stroke-width="0.45"/>
</g>
<g opacity="0.85">
<line x1="67.05" y1="201.00" x2="67.05" y2="216.50" stroke="#17407F" stroke-width="0.45"/>
<line x1="65.15" y1="201.00" x2="68.95" y2="201.00" stroke="#17407F" stroke-width="0.45"/>
<line x1="65.15" y1="216.50" x2="68.95" y2="216.50" stroke="#17407F" stroke-width="0.45"/>
</g>
<g opacity="0.85">
<line x1="91.15" y1="208.00" x2="91.15" y2="228.50" stroke="#9C0E29" stroke-width="0.45"/>
<line x1="89.25" y1="208.00" x2="93.05" y2="208.00" stroke="#9C0E29" stroke-width="0.45"/>
<line x1="89.25" y1="228.50" x2="93.05" y2="228.50" stroke="#9C0E29" stroke-width="0.45"/>
</g>
<g opacity="0.85">
<line x1="105.80" y1="212.50" x2="105.80" y2="235.50" stroke="#17407F" stroke-width="0.45"/>
<line x1="103.90" y1="212.50" x2="107.70" y2="212.50" stroke="#17407F" stroke-width="0.45"/>
<line x1="103.90" y1="235.50" x2="107.70" y2="235.50" stroke="#17407F" stroke-width="0.45"/>
</g>
<g opacity="0.85">
<line x1="129.95" y1="216.00" x2="129.95" y2="225.50" stroke="#9C0E29" stroke-width="0.45"/>
<line x1="128.05" y1="216.00" x2="131.85" y2="216.00" stroke="#9C0E29" stroke-width="0.45"/>
<line x1="128.05" y1="225.50" x2="131.85" y2="225.50" stroke="#9C0E29" stroke-width="0.45"/>
</g>
<g opacity="0.85">
<line x1="144.20" y1="207.00" x2="144.20" y2="231.50" stroke="#17407F" stroke-width="0.45"/>
<line x1="142.30" y1="207.00" x2="146.10" y2="207.00" stroke="#17407F" stroke-width="0.45"/>
<line x1="142.30" y1="231.50" x2="146.10" y2="231.50" stroke="#17407F" stroke-width="0.45"/>
</g>
<circle cx="52.50" cy="176.00" r="1.35" fill="#A80D28"/>
<circle cx="52.50" cy="185.20" r="1.35" fill="#A80D28"/>
<circle cx="52.50" cy="189.00" r="1.35" fill="#A80D28"/>
<circle cx="52.50" cy="192.00" r="1.35" fill="#A80D28"/>
<circle cx="49.00" cy="193.20" r="1.35" fill="#A80D28"/>
<circle cx="56.20" cy="194.00" r="1.35" fill="#C20F2B"/>
<circle cx="52.50" cy="203.30" r="1.35" fill="#C20F2B"/>
<circle cx="52.50" cy="215.20" r="1.35" fill="#C20F2B"/>
<circle cx="67.30" cy="197.30" r="1.35" fill="#133777"/>
<circle cx="65.50" cy="201.70" r="1.35" fill="#133777"/>
<circle cx="69.00" cy="203.50" r="1.35" fill="#133777"/>
<circle cx="65.00" cy="207.00" r="1.35" fill="#133777"/>
<circle cx="69.00" cy="207.00" r="1.35" fill="#133777"/>
<circle cx="67.30" cy="216.80" r="1.35" fill="#143A7C"/>
<circle cx="63.80" cy="219.20" r="1.35" fill="#143A7C"/>
<circle cx="70.50" cy="218.50" r="1.35" fill="#143A7C"/>
<circle cx="91.10" cy="202.00" r="1.35" fill="#A80D28"/>
<circle cx="91.10" cy="205.80" r="1.35" fill="#A80D28"/>
<circle cx="91.10" cy="210.20" r="1.35" fill="#A80D28"/>
<circle cx="91.10" cy="220.30" r="1.35" fill="#C20F2B"/>
<circle cx="88.00" cy="223.50" r="1.35" fill="#C20F2B"/>
<circle cx="94.50" cy="223.50" r="1.35" fill="#C20F2B"/>
<circle cx="87.50" cy="226.30" r="1.35" fill="#C20F2B"/>
<circle cx="94.50" cy="227.00" r="1.35" fill="#C20F2B"/>
<circle cx="91.00" cy="229.50" r="1.35" fill="#C20F2B"/>
<circle cx="105.50" cy="208.00" r="1.35" fill="#133777"/>
<circle cx="105.50" cy="214.80" r="1.35" fill="#133777"/>
<circle cx="102.00" cy="217.20" r="1.35" fill="#133777"/>
<circle cx="109.00" cy="216.00" r="1.35" fill="#133777"/>
<circle cx="105.50" cy="225.50" r="1.35" fill="#143A7C"/>
<circle cx="105.50" cy="235.00" r="1.35" fill="#143A7C"/>
<circle cx="102.00" cy="238.00" r="1.35" fill="#143A7C"/>
<circle cx="109.00" cy="236.50" r="1.35" fill="#143A7C"/>
<circle cx="127.90" cy="216.80" r="1.35" fill="#A80D28"/>
<circle cx="131.50" cy="216.20" r="1.35" fill="#A80D28"/>
<circle cx="126.00" cy="220.00" r="1.35" fill="#A80D28"/>
<circle cx="129.70" cy="222.00" r="1.35" fill="#C20F2B"/>
<circle cx="133.50" cy="221.00" r="1.35" fill="#A80D28"/>
<circle cx="127.90" cy="226.00" r="1.35" fill="#C20F2B"/>
<circle cx="131.50" cy="226.00" r="1.35" fill="#C20F2B"/>
<circle cx="129.70" cy="230.70" r="1.35" fill="#C20F2B"/>
<circle cx="144.10" cy="200.70" r="1.35" fill="#133777"/>
<circle cx="147.80" cy="205.00" r="1.35" fill="#133777"/>
<circle cx="144.10" cy="207.00" r="1.35" fill="#133777"/>
<circle cx="142.00" cy="226.00" r="1.35" fill="#143A7C"/>
<circle cx="146.00" cy="226.00" r="1.35" fill="#143A7C"/>
<circle cx="141.00" cy="229.50" r="1.35" fill="#143A7C"/>
<circle cx="144.50" cy="229.50" r="1.35" fill="#143A7C"/>
<circle cx="147.50" cy="229.50" r="1.35" fill="#143A7C"/>
<line x1="43.00" y1="156.40" x2="43.00" y2="245.25" stroke="#0d0d0d" stroke-width="1.35"/>
<line x1="42.35" y1="244.60" x2="153.80" y2="244.60" stroke="#0d0d0d" stroke-width="1.3"/>
<line x1="39.80" y1="244.60" x2="43.00" y2="244.60" stroke="#0d0d0d" stroke-width="0.95"/>
<text transform="matrix(1.07 0.002 0 1 37.40 246.55)" font-size="6.0" text-anchor="end" fill="#231F20" stroke="#231F20" stroke-width="0.12">0</text>
<line x1="39.80" y1="216.10" x2="43.00" y2="216.10" stroke="#0d0d0d" stroke-width="0.95"/>
<text transform="matrix(1.07 0.002 0 1 37.40 218.05)" font-size="6.0" text-anchor="end" fill="#231F20" stroke="#231F20" stroke-width="0.12">25</text>
<line x1="39.80" y1="187.60" x2="43.00" y2="187.60" stroke="#0d0d0d" stroke-width="0.95"/>
<text transform="matrix(1.07 0.002 0 1 37.40 189.55)" font-size="6.0" text-anchor="end" fill="#231F20" stroke="#231F20" stroke-width="0.12">50</text>
<line x1="39.80" y1="159.10" x2="43.00" y2="159.10" stroke="#0d0d0d" stroke-width="0.95"/>
<text transform="matrix(1.07 0.002 0 1 37.40 161.05)" font-size="6.0" text-anchor="end" fill="#231F20" stroke="#231F20" stroke-width="0.12">75</text>
<line x1="59.60" y1="244.60" x2="59.60" y2="247.60" stroke="#0d0d0d" stroke-width="0.95"/>
<text transform="matrix(1 0.002 0 1 59.60 255.80)" font-size="6.0" text-anchor="middle" fill="#231F20" stroke="#231F20" stroke-width="0.2">Th1</text>
<line x1="98.30" y1="244.60" x2="98.30" y2="247.60" stroke="#0d0d0d" stroke-width="0.95"/>
<text transform="matrix(1 0.002 0 1 98.30 255.80)" font-size="6.0" text-anchor="middle" fill="#231F20" stroke="#231F20" stroke-width="0.2">Th17</text>
<line x1="137.00" y1="244.60" x2="137.00" y2="247.60" stroke="#0d0d0d" stroke-width="0.95"/>
<text transform="matrix(1 0.002 0 1 137.00 255.80)" font-size="6.0" text-anchor="middle" fill="#231F20" stroke="#231F20" stroke-width="0.2">Tregs</text>
<text transform="translate(25.20 199.80) rotate(-89.9)" font-size="7.0" text-anchor="middle" fill="#231F20" textLength="38.8" lengthAdjust="spacingAndGlyphs" stroke="#231F20" stroke-width="0.24">% CD4+ T cells</text>
<line x1="52.80" y1="169.70" x2="67.60" y2="169.70" stroke="#454545" stroke-width="0.5"/>
<line x1="52.80" y1="168.60" x2="52.80" y2="170.80" stroke="#454545" stroke-width="0.5"/>
<line x1="67.60" y1="168.60" x2="67.60" y2="170.80" stroke="#454545" stroke-width="0.5"/>
<text transform="matrix(1 0.002 0 1 60.20 169.60)" font-size="6.2" text-anchor="middle" font-weight="bold" fill="#333" >**</text>
<line x1="91.50" y1="194.20" x2="105.50" y2="194.20" stroke="#454545" stroke-width="0.5"/>
<line x1="91.50" y1="193.10" x2="91.50" y2="195.30" stroke="#454545" stroke-width="0.5"/>
<line x1="105.50" y1="193.10" x2="105.50" y2="195.30" stroke="#454545" stroke-width="0.5"/>
<text transform="matrix(0.86 0.002 0 1 98.50 192.30)" font-size="6.9" text-anchor="middle" fill="#333" stroke="#333" stroke-width="0.15">ns</text>
<line x1="129.50" y1="193.20" x2="143.30" y2="193.20" stroke="#454545" stroke-width="0.5"/>
<line x1="129.50" y1="192.10" x2="129.50" y2="194.30" stroke="#454545" stroke-width="0.5"/>
<line x1="143.30" y1="192.10" x2="143.30" y2="194.30" stroke="#454545" stroke-width="0.5"/>
<text transform="matrix(0.86 0.002 0 1 136.40 191.30)" font-size="6.9" text-anchor="middle" fill="#333" stroke="#333" stroke-width="0.15">ns</text>
<text transform="matrix(1 0.002 0 1 6.70 150.30)" font-size="10.7" font-weight="bold" fill="#111" stroke="#111" stroke-width="0.45" stroke-linejoin="round">E</text>
<rect x="220.90" y="228.60" width="9.40" height="16.00" fill="#E5766C" stroke="#D9625A" stroke-width="0.4"/>
<rect x="235.30" y="211.90" width="9.50" height="32.70" fill="#7A8CBC" stroke="#66749A" stroke-width="0.4"/>
<rect x="259.90" y="239.40" width="9.20" height="5.20" fill="#E5766C" stroke="#D9625A" stroke-width="0.4"/>
<rect x="274.10" y="233.50" width="9.50" height="11.10" fill="#7A8CBC" stroke="#66749A" stroke-width="0.4"/>
<rect x="298.40" y="192.20" width="9.30" height="52.40" fill="#E5766C" stroke="#D9625A" stroke-width="0.4"/>
<rect x="312.50" y="182.10" width="9.60" height="62.50" fill="#7A8CBC" stroke="#66749A" stroke-width="0.4"/>
<g opacity="0.85">
<line x1="225.60" y1="222.00" x2="225.60" y2="234.50" stroke="#9C0E29" stroke-width="0.45"/>
<line x1="223.70" y1="222.00" x2="227.50" y2="222.00" stroke="#9C0E29" stroke-width="0.45"/>
<line x1="223.70" y1="234.50" x2="227.50" y2="234.50" stroke="#9C0E29" stroke-width="0.45"/>
</g>
<g opacity="0.85">
<line x1="240.05" y1="198.00" x2="240.05" y2="225.00" stroke="#17407F" stroke-width="0.45"/>
<line x1="238.15" y1="198.00" x2="241.95" y2="198.00" stroke="#17407F" stroke-width="0.45"/>
<line x1="238.15" y1="225.00" x2="241.95" y2="225.00" stroke="#17407F" stroke-width="0.45"/>
</g>
<g opacity="0.85">
<line x1="264.50" y1="238.00" x2="264.50" y2="240.50" stroke="#9C0E29" stroke-width="0.45"/>
<line x1="262.60" y1="238.00" x2="266.40" y2="238.00" stroke="#9C0E29" stroke-width="0.45"/>
<line x1="262.60" y1="240.50" x2="266.40" y2="240.50" stroke="#9C0E29" stroke-width="0.45"/>
</g>
<g opacity="0.85">
<line x1="278.85" y1="228.50" x2="278.85" y2="238.50" stroke="#17407F" stroke-width="0.45"/>
<line x1="276.95" y1="228.50" x2="280.75" y2="228.50" stroke="#17407F" stroke-width="0.45"/>
<line x1="276.95" y1="238.50" x2="280.75" y2="238.50" stroke="#17407F" stroke-width="0.45"/>
</g>
<g opacity="0.85">
<line x1="303.05" y1="167.00" x2="303.05" y2="216.50" stroke="#9C0E29" stroke-width="0.45"/>
<line x1="301.15" y1="167.00" x2="304.95" y2="167.00" stroke="#9C0E29" stroke-width="0.45"/>
<line x1="301.15" y1="216.50" x2="304.95" y2="216.50" stroke="#9C0E29" stroke-width="0.45"/>
</g>
<g opacity="0.85">
<line x1="317.30" y1="165.00" x2="317.30" y2="199.00" stroke="#17407F" stroke-width="0.45"/>
<line x1="315.40" y1="165.00" x2="319.20" y2="165.00" stroke="#17407F" stroke-width="0.45"/>
<line x1="315.40" y1="199.00" x2="319.20" y2="199.00" stroke="#17407F" stroke-width="0.45"/>
</g>
<circle cx="224.10" cy="222.90" r="1.35" fill="#A80D28"/>
<circle cx="227.50" cy="221.30" r="1.35" fill="#A80D28"/>
<circle cx="225.50" cy="225.70" r="1.35" fill="#A80D28"/>
<circle cx="229.00" cy="227.00" r="1.35" fill="#A80D28"/>
<circle cx="223.00" cy="230.00" r="1.35" fill="#C20F2B"/>
<circle cx="226.00" cy="229.00" r="1.35" fill="#A80D28"/>
<circle cx="229.00" cy="231.50" r="1.35" fill="#C20F2B"/>
<circle cx="225.50" cy="232.50" r="1.35" fill="#C20F2B"/>
<circle cx="240.30" cy="196.60" r="1.35" fill="#133777"/>
<circle cx="236.50" cy="202.00" r="1.35" fill="#133777"/>
<circle cx="243.80" cy="202.00" r="1.35" fill="#133777"/>
<circle cx="236.50" cy="211.00" r="1.35" fill="#133777"/>
<circle cx="243.80" cy="212.50" r="1.35" fill="#133777"/>
<circle cx="236.50" cy="214.00" r="1.35" fill="#143A7C"/>
<circle cx="240.30" cy="219.00" r="1.35" fill="#143A7C"/>
<circle cx="240.30" cy="238.00" r="1.35" fill="#143A7C"/>
<circle cx="262.00" cy="239.50" r="1.35" fill="#D80F2C"/>
<circle cx="264.50" cy="238.50" r="1.35" fill="#D80F2C"/>
<circle cx="267.00" cy="239.50" r="1.35" fill="#D80F2C"/>
<circle cx="263.00" cy="241.00" r="1.35" fill="#D80F2C"/>
<circle cx="266.00" cy="241.00" r="1.35" fill="#D80F2C"/>
<circle cx="264.50" cy="240.20" r="1.35" fill="#D80F2C"/>
<circle cx="261.50" cy="241.20" r="1.35" fill="#D80F2C"/>
<circle cx="267.50" cy="241.20" r="1.35" fill="#D80F2C"/>
<circle cx="275.00" cy="229.40" r="1.35" fill="#133777"/>
<circle cx="278.70" cy="228.30" r="1.35" fill="#133777"/>
<circle cx="282.20" cy="228.60" r="1.35" fill="#133777"/>
<circle cx="282.20" cy="230.90" r="1.35" fill="#133777"/>
<circle cx="282.20" cy="235.00" r="1.35" fill="#143A7C"/>
<circle cx="278.70" cy="236.70" r="1.35" fill="#143A7C"/>
<circle cx="275.20" cy="238.40" r="1.35" fill="#143A7C"/>
<circle cx="282.20" cy="238.40" r="1.35" fill="#143A7C"/>
<circle cx="302.80" cy="166.00" r="1.35" fill="#A80D28"/>
<circle cx="299.20" cy="176.20" r="1.35" fill="#A80D28"/>
<circle cx="302.80" cy="174.50" r="1.35" fill="#A80D28"/>
<circle cx="306.30" cy="175.00" r="1.35" fill="#A80D28"/>
<circle cx="302.80" cy="180.50" r="1.35" fill="#A80D28"/>
<circle cx="302.80" cy="210.20" r="1.35" fill="#C20F2B"/>
<circle cx="302.80" cy="219.40" r="1.35" fill="#C20F2B"/>
<circle cx="302.80" cy="230.70" r="1.35" fill="#C20F2B"/>
<circle cx="313.80" cy="165.10" r="1.35" fill="#133777"/>
<circle cx="320.70" cy="164.70" r="1.35" fill="#133777"/>
<circle cx="317.30" cy="168.50" r="1.35" fill="#133777"/>
<circle cx="317.30" cy="172.80" r="1.35" fill="#133777"/>
<circle cx="317.30" cy="180.50" r="1.35" fill="#133777"/>
<circle cx="317.30" cy="193.70" r="1.35" fill="#143A7C"/>
<circle cx="317.30" cy="201.00" r="1.35" fill="#143A7C"/>
<circle cx="317.30" cy="207.50" r="1.35" fill="#143A7C"/>
<line x1="216.40" y1="156.30" x2="216.40" y2="245.25" stroke="#0d0d0d" stroke-width="1.35"/>
<line x1="215.75" y1="244.60" x2="326.30" y2="244.60" stroke="#0d0d0d" stroke-width="1.3"/>
<line x1="213.20" y1="244.60" x2="216.40" y2="244.60" stroke="#0d0d0d" stroke-width="0.95"/>
<text transform="matrix(1.07 0.002 0 1 210.80 246.55)" font-size="6.0" text-anchor="end" fill="#231F20" stroke="#231F20" stroke-width="0.12">0</text>
<line x1="213.20" y1="223.20" x2="216.40" y2="223.20" stroke="#0d0d0d" stroke-width="0.95"/>
<text transform="matrix(1.07 0.002 0 1 210.80 225.15)" font-size="6.0" text-anchor="end" fill="#231F20" stroke="#231F20" stroke-width="0.12">25</text>
<line x1="213.20" y1="201.80" x2="216.40" y2="201.80" stroke="#0d0d0d" stroke-width="0.95"/>
<text transform="matrix(1.07 0.002 0 1 210.80 203.75)" font-size="6.0" text-anchor="end" fill="#231F20" stroke="#231F20" stroke-width="0.12">50</text>
<line x1="213.20" y1="180.40" x2="216.40" y2="180.40" stroke="#0d0d0d" stroke-width="0.95"/>
<text transform="matrix(1.07 0.002 0 1 210.80 182.35)" font-size="6.0" text-anchor="end" fill="#231F20" stroke="#231F20" stroke-width="0.12">75</text>
<line x1="213.20" y1="159.00" x2="216.40" y2="159.00" stroke="#0d0d0d" stroke-width="0.95"/>
<text transform="matrix(1.07 0.002 0 1 210.80 160.95)" font-size="6.0" text-anchor="end" fill="#231F20" stroke="#231F20" stroke-width="0.12">100</text>
<line x1="232.70" y1="244.60" x2="232.70" y2="247.60" stroke="#0d0d0d" stroke-width="0.95"/>
<text transform="matrix(0.98 0.002 0 1 232.30 255.80)" font-size="6.0" text-anchor="middle" fill="#231F20" stroke="#231F20" stroke-width="0.2">LAG3+</text>
<line x1="271.30" y1="244.60" x2="271.30" y2="247.60" stroke="#0d0d0d" stroke-width="0.95"/>
<text transform="matrix(0.97 0.002 0 1 270.80 255.80)" font-size="6.0" text-anchor="middle" fill="#231F20" stroke="#231F20" stroke-width="0.2">Tim-3+</text>
<line x1="310.20" y1="244.60" x2="310.20" y2="247.60" stroke="#0d0d0d" stroke-width="0.95"/>
<text transform="matrix(1.0 0.002 0 1 310.00 255.80)" font-size="6.0" text-anchor="middle" fill="#231F20" stroke="#231F20" stroke-width="0.2">PD1+</text>
<text transform="translate(193.80 200.40) rotate(-89.9)" font-size="7.0" text-anchor="middle" fill="#231F20" textLength="35.0" lengthAdjust="spacingAndGlyphs" stroke="#231F20" stroke-width="0.24">% CD4 T cells</text>
<line x1="221.40" y1="189.40" x2="234.50" y2="189.40" stroke="#454545" stroke-width="0.5"/>
<line x1="221.40" y1="188.30" x2="221.40" y2="190.50" stroke="#454545" stroke-width="0.5"/>
<line x1="234.50" y1="188.30" x2="234.50" y2="190.50" stroke="#454545" stroke-width="0.5"/>
<text transform="matrix(1 0.002 0 1 227.95 189.30)" font-size="6.2" text-anchor="middle" font-weight="bold" fill="#333" >**</text>
<line x1="265.30" y1="216.50" x2="278.20" y2="216.50" stroke="#454545" stroke-width="0.5"/>
<line x1="265.30" y1="215.40" x2="265.30" y2="217.60" stroke="#454545" stroke-width="0.5"/>
<line x1="278.20" y1="215.40" x2="278.20" y2="217.60" stroke="#454545" stroke-width="0.5"/>
<text transform="matrix(1 0.002 0 1 271.75 216.40)" font-size="6.2" text-anchor="middle" font-weight="bold" fill="#333" >**</text>
<line x1="303.50" y1="157.30" x2="316.90" y2="157.30" stroke="#454545" stroke-width="0.5"/>
<line x1="303.50" y1="156.20" x2="303.50" y2="158.40" stroke="#454545" stroke-width="0.5"/>
<line x1="316.90" y1="156.20" x2="316.90" y2="158.40" stroke="#454545" stroke-width="0.5"/>
<text transform="matrix(0.86 0.002 0 1 310.20 155.40)" font-size="6.9" text-anchor="middle" fill="#333" stroke="#333" stroke-width="0.15">ns</text>
<text transform="matrix(1 0.002 0 1 177.00 150.30)" font-size="10.7" font-weight="bold" fill="#111" stroke="#111" stroke-width="0.45" stroke-linejoin="round">F</text>
<rect x="388.30" y="185.20" width="9.30" height="59.40" fill="#E5766C" stroke="#D9625A" stroke-width="0.4"/>
<rect x="403.00" y="185.50" width="9.30" height="59.10" fill="#7A8CBC" stroke="#66749A" stroke-width="0.4"/>
<rect x="427.30" y="229.30" width="9.10" height="15.30" fill="#E5766C" stroke="#D9625A" stroke-width="0.4"/>
<rect x="441.40" y="221.30" width="9.40" height="23.30" fill="#7A8CBC" stroke="#66749A" stroke-width="0.4"/>
<rect x="465.50" y="212.10" width="9.50" height="32.50" fill="#E5766C" stroke="#D9625A" stroke-width="0.4"/>
<rect x="480.20" y="217.00" width="9.40" height="27.60" fill="#7A8CBC" stroke="#66749A" stroke-width="0.4"/>
<g opacity="0.85">
<line x1="392.95" y1="180.00" x2="392.95" y2="190.00" stroke="#9C0E29" stroke-width="0.45"/>
<line x1="391.05" y1="180.00" x2="394.85" y2="180.00" stroke="#9C0E29" stroke-width="0.45"/>
<line x1="391.05" y1="190.00" x2="394.85" y2="190.00" stroke="#9C0E29" stroke-width="0.45"/>
</g>
<g opacity="0.85">
<line x1="407.65" y1="173.20" x2="407.65" y2="197.00" stroke="#17407F" stroke-width="0.45"/>
<line x1="405.75" y1="173.20" x2="409.55" y2="173.20" stroke="#17407F" stroke-width="0.45"/>
<line x1="405.75" y1="197.00" x2="409.55" y2="197.00" stroke="#17407F" stroke-width="0.45"/>
</g>
<g opacity="0.85">
<line x1="431.85" y1="215.60" x2="431.85" y2="242.50" stroke="#9C0E29" stroke-width="0.45"/>
<line x1="429.95" y1="215.60" x2="433.75" y2="215.60" stroke="#9C0E29" stroke-width="0.45"/>
<line x1="429.95" y1="242.50" x2="433.75" y2="242.50" stroke="#9C0E29" stroke-width="0.45"/>
</g>
<g opacity="0.85">
<line x1="446.10" y1="206.80" x2="446.10" y2="235.50" stroke="#17407F" stroke-width="0.45"/>
<line x1="444.20" y1="206.80" x2="448.00" y2="206.80" stroke="#17407F" stroke-width="0.45"/>
<line x1="444.20" y1="235.50" x2="448.00" y2="235.50" stroke="#17407F" stroke-width="0.45"/>
</g>
<g opacity="0.85">
<line x1="470.25" y1="201.50" x2="470.25" y2="222.50" stroke="#9C0E29" stroke-width="0.45"/>
<line x1="468.35" y1="201.50" x2="472.15" y2="201.50" stroke="#9C0E29" stroke-width="0.45"/>
<line x1="468.35" y1="222.50" x2="472.15" y2="222.50" stroke="#9C0E29" stroke-width="0.45"/>
</g>
<g opacity="0.85">
<line x1="484.90" y1="201.30" x2="484.90" y2="232.00" stroke="#17407F" stroke-width="0.45"/>
<line x1="483.00" y1="201.30" x2="486.80" y2="201.30" stroke="#17407F" stroke-width="0.45"/>
<line x1="483.00" y1="232.00" x2="486.80" y2="232.00" stroke="#17407F" stroke-width="0.45"/>
</g>
<circle cx="393.10" cy="178.10" r="1.35" fill="#A80D28"/>
<circle cx="393.10" cy="183.50" r="1.35" fill="#A80D28"/>
<circle cx="389.30" cy="185.00" r="1.35" fill="#A80D28"/>
<circle cx="396.80" cy="185.00" r="1.35" fill="#A80D28"/>
<circle cx="391.00" cy="188.00" r="1.35" fill="#C20F2B"/>
<circle cx="395.00" cy="188.00" r="1.35" fill="#C20F2B"/>
<circle cx="391.30" cy="193.00" r="1.35" fill="#C20F2B"/>
<circle cx="395.00" cy="192.00" r="1.35" fill="#C20F2B"/>
<circle cx="407.60" cy="170.50" r="1.35" fill="#133777"/>
<circle cx="407.60" cy="175.00" r="1.35" fill="#133777"/>
<circle cx="403.80" cy="180.00" r="1.35" fill="#133777"/>
<circle cx="411.30" cy="180.00" r="1.35" fill="#133777"/>
<circle cx="407.60" cy="184.00" r="1.35" fill="#133777"/>
<circle cx="407.60" cy="190.00" r="1.35" fill="#143A7C"/>
<circle cx="407.60" cy="194.50" r="1.35" fill="#143A7C"/>
<circle cx="407.60" cy="206.80" r="1.35" fill="#143A7C"/>
<circle cx="431.80" cy="208.20" r="1.35" fill="#A80D28"/>
<circle cx="431.80" cy="210.80" r="1.35" fill="#A80D28"/>
<circle cx="431.80" cy="220.60" r="1.35" fill="#A80D28"/>
<circle cx="432.00" cy="236.00" r="1.35" fill="#C20F2B"/>
<circle cx="435.00" cy="237.50" r="1.35" fill="#C20F2B"/>
<circle cx="428.50" cy="241.00" r="1.35" fill="#C20F2B"/>
<circle cx="432.00" cy="241.00" r="1.35" fill="#C20F2B"/>
<circle cx="435.00" cy="240.50" r="1.35" fill="#C20F2B"/>
<circle cx="446.00" cy="195.70" r="1.35" fill="#133777"/>
<circle cx="446.00" cy="203.90" r="1.35" fill="#133777"/>
<circle cx="446.00" cy="215.30" r="1.35" fill="#133777"/>
<circle cx="446.00" cy="224.00" r="1.35" fill="#143A7C"/>
<circle cx="442.50" cy="231.50" r="1.35" fill="#143A7C"/>
<circle cx="449.50" cy="230.00" r="1.35" fill="#143A7C"/>
<circle cx="442.50" cy="235.00" r="1.35" fill="#143A7C"/>
<circle cx="449.50" cy="234.50" r="1.35" fill="#143A7C"/>
<circle cx="470.20" cy="195.50" r="1.35" fill="#A80D28"/>
<circle cx="470.20" cy="199.20" r="1.35" fill="#A80D28"/>
<circle cx="470.20" cy="205.00" r="1.35" fill="#A80D28"/>
<circle cx="470.20" cy="212.50" r="1.35" fill="#A80D28"/>
<circle cx="470.20" cy="215.50" r="1.35" fill="#C20F2B"/>
<circle cx="470.20" cy="219.00" r="1.35" fill="#C20F2B"/>
<circle cx="470.20" cy="221.50" r="1.35" fill="#C20F2B"/>
<circle cx="470.20" cy="227.00" r="1.35" fill="#C20F2B"/>
<circle cx="484.70" cy="188.70" r="1.35" fill="#133777"/>
<circle cx="484.70" cy="204.50" r="1.35" fill="#133777"/>
<circle cx="488.20" cy="214.70" r="1.35" fill="#133777"/>
<circle cx="481.30" cy="216.00" r="1.35" fill="#133777"/>
<circle cx="488.20" cy="218.50" r="1.35" fill="#143A7C"/>
<circle cx="484.70" cy="226.50" r="1.35" fill="#143A7C"/>
<circle cx="484.70" cy="230.50" r="1.35" fill="#143A7C"/>
<circle cx="484.70" cy="236.30" r="1.35" fill="#143A7C"/>
<line x1="383.30" y1="156.30" x2="383.30" y2="245.25" stroke="#0d0d0d" stroke-width="1.35"/>
<line x1="382.65" y1="244.60" x2="494.70" y2="244.60" stroke="#0d0d0d" stroke-width="1.3"/>
<line x1="380.10" y1="244.60" x2="383.30" y2="244.60" stroke="#0d0d0d" stroke-width="0.95"/>
<text transform="matrix(1.07 0.002 0 1 377.70 246.55)" font-size="6.0" text-anchor="end" fill="#231F20" stroke="#231F20" stroke-width="0.12">0</text>
<line x1="380.10" y1="223.20" x2="383.30" y2="223.20" stroke="#0d0d0d" stroke-width="0.95"/>
<text transform="matrix(1.07 0.002 0 1 377.70 225.15)" font-size="6.0" text-anchor="end" fill="#231F20" stroke="#231F20" stroke-width="0.12">25</text>
<line x1="380.10" y1="201.80" x2="383.30" y2="201.80" stroke="#0d0d0d" stroke-width="0.95"/>
<text transform="matrix(1.07 0.002 0 1 377.70 203.75)" font-size="6.0" text-anchor="end" fill="#231F20" stroke="#231F20" stroke-width="0.12">50</text>
<line x1="380.10" y1="180.40" x2="383.30" y2="180.40" stroke="#0d0d0d" stroke-width="0.95"/>
<text transform="matrix(1.07 0.002 0 1 377.70 182.35)" font-size="6.0" text-anchor="end" fill="#231F20" stroke="#231F20" stroke-width="0.12">75</text>
<line x1="380.10" y1="159.00" x2="383.30" y2="159.00" stroke="#0d0d0d" stroke-width="0.95"/>
<text transform="matrix(1.07 0.002 0 1 377.70 160.95)" font-size="6.0" text-anchor="end" fill="#231F20" stroke="#231F20" stroke-width="0.12">100</text>
<line x1="400.20" y1="244.60" x2="400.20" y2="247.60" stroke="#0d0d0d" stroke-width="0.95"/>
<text transform="matrix(1 0.002 0 1 400.20 255.80)" font-size="6.0" text-anchor="middle" fill="#231F20" stroke="#231F20" stroke-width="0.2">LAG3+</text>
<line x1="438.70" y1="244.60" x2="438.70" y2="247.60" stroke="#0d0d0d" stroke-width="0.95"/>
<text transform="matrix(1 0.002 0 1 438.70 255.80)" font-size="6.0" text-anchor="middle" fill="#231F20" stroke="#231F20" stroke-width="0.2">Tim-3+</text>
<line x1="477.60" y1="244.60" x2="477.60" y2="247.60" stroke="#0d0d0d" stroke-width="0.95"/>
<text transform="matrix(1 0.002 0 1 477.60 255.80)" font-size="6.0" text-anchor="middle" fill="#231F20" stroke="#231F20" stroke-width="0.2">PD1+</text>
<text transform="translate(362.00 200.40) rotate(-89.9)" font-size="7.0" text-anchor="middle" fill="#231F20" textLength="35.0" lengthAdjust="spacingAndGlyphs" stroke="#231F20" stroke-width="0.24">% CD8 T cells</text>
<line x1="392.80" y1="161.10" x2="406.90" y2="161.10" stroke="#454545" stroke-width="0.5"/>
<line x1="392.80" y1="160.00" x2="392.80" y2="162.20" stroke="#454545" stroke-width="0.5"/>
<line x1="406.90" y1="160.00" x2="406.90" y2="162.20" stroke="#454545" stroke-width="0.5"/>
<text transform="matrix(0.86 0.002 0 1 399.85 159.20)" font-size="6.9" text-anchor="middle" fill="#333" stroke="#333" stroke-width="0.15">ns</text>
<line x1="432.90" y1="191.00" x2="445.00" y2="191.00" stroke="#454545" stroke-width="0.5"/>
<line x1="432.90" y1="189.90" x2="432.90" y2="192.10" stroke="#454545" stroke-width="0.5"/>
<line x1="445.00" y1="189.90" x2="445.00" y2="192.10" stroke="#454545" stroke-width="0.5"/>
<text transform="matrix(0.86 0.002 0 1 438.95 189.10)" font-size="6.9" text-anchor="middle" fill="#333" stroke="#333" stroke-width="0.15">ns</text>
<line x1="468.40" y1="182.40" x2="481.90" y2="182.40" stroke="#454545" stroke-width="0.5"/>
<line x1="468.40" y1="181.30" x2="468.40" y2="183.50" stroke="#454545" stroke-width="0.5"/>
<line x1="481.90" y1="181.30" x2="481.90" y2="183.50" stroke="#454545" stroke-width="0.5"/>
<text transform="matrix(0.86 0.002 0 1 475.15 180.50)" font-size="6.9" text-anchor="middle" fill="#333" stroke="#333" stroke-width="0.15">ns</text>
<text transform="matrix(1 0.002 0 1 344.30 150.30)" font-size="10.7" font-weight="bold" fill="#111" stroke="#111" stroke-width="0.45" stroke-linejoin="round">G</text>
</svg>
</body>
</html>
